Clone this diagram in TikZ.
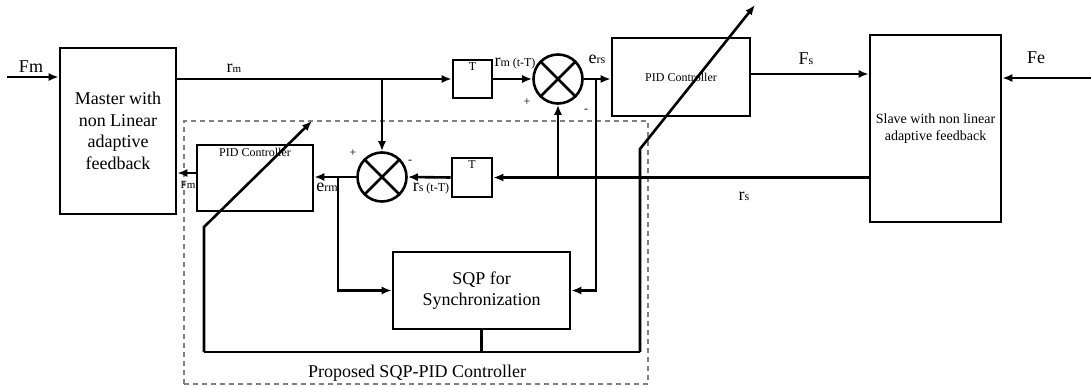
\documentclass[tikz,border=0pt]{standalone}
\usepackage{fontspec}
\setmainfont{Liberation Serif}
\usetikzlibrary{arrows.meta}
\newcommand\myL{\fontsize{18}{21.5}\selectfont}
\newcommand\myM{\fontsize{14}{17}\selectfont}
\newcommand\myS{\fontsize{12}{14}\selectfont}
\newcommand\myT{\fontsize{11}{13}\selectfont}
\begin{document}
\begin{tikzpicture}[x=1pt,y=-1pt,
  blk/.style={draw, line width=2.6pt, inner sep=0pt, rectangle, align=center},
  sumj/.style={draw, circle, line width=2.6pt, minimum size=49pt, inner sep=0pt},
  conn/.style={line width=2.6pt},
  arr/.style={conn, -{Latex[length=10pt,width=8pt]}},
  lbl/.style={inner sep=0pt},
  toplbl/.style={label={[font=\myS,anchor=north,inner sep=0pt,yshift=-4pt]north:#1}}
]
\useasboundingbox (0,0) rectangle (1091,387);

% dashed frame of the proposed controller
\node[draw=gray, dash pattern=on 5pt off 4pt, line width=1.3pt, minimum width=464pt, minimum height=263pt, inner sep=0pt] (frame) at (416,252.5) {};
\node[lbl, font=\myL] (framelbl) at (417,373) {Proposed SQP-PID Controller};

% blocks
\node[blk, minimum width=116pt, minimum height=166pt, font=\myL] (master) at (118,131) {Master with\\non Linear\\adaptive\\feedback};
\node[blk, minimum width=131pt, minimum height=187pt, font=\myM] (slave) at (935.5,128.5) {Slave with non linear\\adaptive feedback};
\node[blk, minimum width=138pt, minimum height=78pt, font=\myS] (topPID) at (681,77) {PID Controller};
\node[blk, minimum width=116pt, minimum height=66pt, toplbl={PID Controller}] (botPID) at (255,178) {};
\node[blk, minimum width=39pt, minimum height=38pt, toplbl={T}] (topT) at (472.5,79) {};
\node[blk, minimum width=40pt, minimum height=39pt, toplbl={T}] (botT) at (472,177.5) {};
\node[blk, minimum width=177pt, minimum height=77pt, font=\myL] (sqp) at (481.5,290.5) {SQP for\\Synchronization};

% summing junctions
\node[sumj] (topS) at (558,79) {};
\node[sumj] (botS) at (382,177) {};
\draw[conn] (topS.north east) -- (topS.south west) (topS.north west) -- (topS.south east);
\draw[conn] (botS.north east) -- (botS.south west) (botS.north west) -- (botS.south east);

% coordinates
\coordinate (fmin) at (7,77);
\coordinate (fein) at (1091,78);
\coordinate (brm) at (382,79);
\coordinate (bers) at (596,79);
\coordinate (brs) at (558,177);
\coordinate (berm) at (338,177);
\coordinate (fbl) at (204,352);
\coordinate (fbr) at (640,352);
\coordinate (bendL) at (204,227);
\coordinate (bendR) at (640,149);
\coordinate (tipL) at (312,121);
\coordinate (tipR) at (755,5);

% connectors
\draw[arr] (fmin) -- (fmin -| master.west);
\draw[arr] (master.east |- topT) -- (topT.west);
\draw[arr] (brm) -- (botS.north);
\draw[arr] (topT.east) -- (topS.west);
\draw[arr] (topS.east) -- (topS.east -| topPID.west);
\draw[arr] (bers) |- (sqp.east);
\draw[arr] ([yshift=3pt]topPID.east) -- ([yshift=3pt]topPID.east -| slave.west);
\draw[arr] (fein) -- (fein -| slave.east);
\draw[arr] (slave.west |- botT) -- (botT.east);
\draw[arr] (brs) -- (topS.south);
\draw[arr] (botT.west) -- (botS.east);
\draw[arr] (botS.west) -- (botS.west -| botPID.east);
\draw[arr] (berm) |- (sqp.west);
\draw[arr] ([yshift=5pt]botPID.west) -- ([yshift=5pt]botPID.west -| master.east);
\draw[conn] (sqp.south) -- (sqp.south |- fbl);
\draw[conn] (fbl) -- (fbr);
\draw[arr] (fbl) -- (bendL) -- (tipL);
\draw[arr] (fbr) -- (bendR) -- (tipR);

% labels
\node[lbl] (lFm) at (31,67) {\myL Fm};
\node[lbl] (lrm) at (234,68) {\myL r\myT m};
\node[lbl] (lrmd) at (515,64) {\myL r\myS m (t-T)};
\node[lbl] (lers) at (597,59) {\myL e\myS rs};
\node[lbl] (lFs) at (806,59) {\myL F\myS s};
\node[lbl] (lFe) at (1036,58) {\myL Fe};
\node[lbl] (lrs) at (744,196) {\myL r\myS s};
\node[lbl] (lrsd) at (431,189) {\myL r\myS s (t-T)};
\node[lbl] (lerm) at (327,187) {\myL e\myS rm};
\node[lbl] (lFm2) at (188,185) {\myT Fm};
\node[lbl] (ptop) at (527,102) {\myS +};
\node[lbl] (mtop) at (586,111) {\myS -};
\node[lbl] (pbot) at (353,153) {\myS +};
\node[lbl] (mbot) at (410,162) {\myS -};
\end{tikzpicture}
\end{document}
